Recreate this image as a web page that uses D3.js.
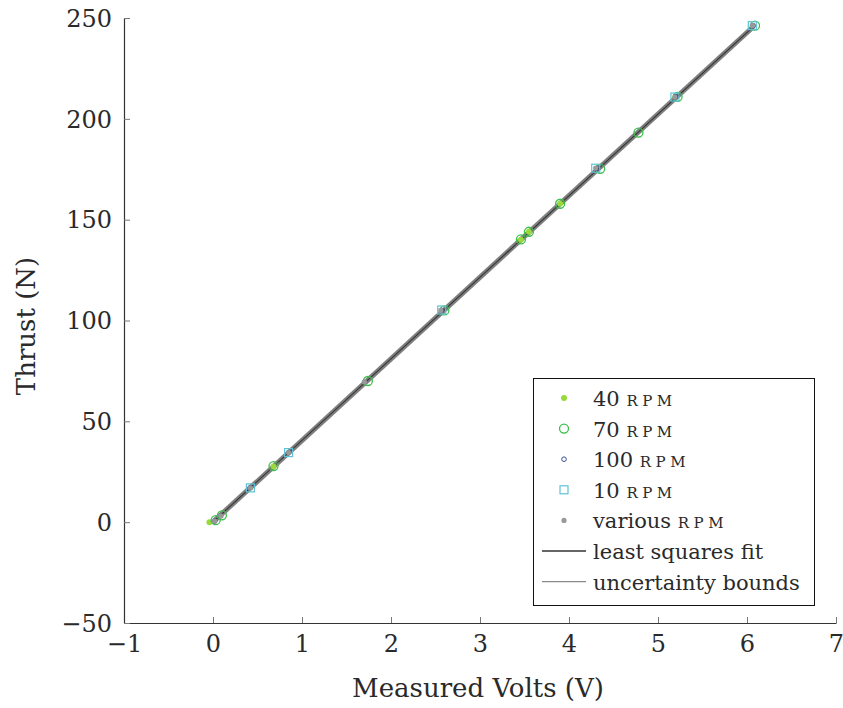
<!DOCTYPE html>
<html><head><meta charset="utf-8">
<script src="https://cdn.jsdelivr.net/npm/d3@7"></script>
<style>body{margin:0;background:#fff}svg{display:block}</style>
</head><body><svg id="c" width="843" height="708" font-family="DejaVu Serif, serif"></svg>
<script>
const xTicks=[-1,0,1,2,3,4,5,6,7];
const yTicks=[-50,0,50,100,150,200,250];
const rpm40=[[-0.04,0.0],[0.68,27.6],[3.46,140.0],[3.55,144.0],[3.90,158.0]];
const rpm70=[[0.03,1.0],[0.10,3.4],[0.68,27.8],[1.74,70.0],[2.60,105.0],[3.46,140.2],[3.55,144.0],[3.90,157.9],[4.35,175.2],[4.78,193.2],[5.22,210.9],[6.09,246.2]];
const rpm100=[[0.02,0.6],[0.42,17.2],[0.85,34.6],[2.57,105.0],[4.32,175.5],[5.20,211.0],[6.07,246.2]];
const rpm10=[[0.42,17.0],[0.85,34.5],[2.57,105.2],[4.30,175.5],[5.19,210.8],[6.06,246.2]];
const various=[[0.02,0.5],[0.09,3.0],[0.42,17.0],[0.85,34.5],[1.70,69.6],[2.56,105.0],[4.30,175.6],[5.19,210.8],[6.06,246.3]];
const fitX=[0,6.08];
const fitSlope=40.45, fitIntercept=0.1, bound=1.0;

const FONT="DejaVu Serif", TXT="#2a2a2a";
const svg=d3.select("#c");
const x=d3.scaleLinear().domain([-1,7]).range([124,836]);
const y=d3.scaleLinear().domain([-50,250]).range([623,18]);
const fit=v=>fitSlope*v+fitIntercept;
const fmt=d=>d<0?"\u2212"+Math.abs(d):d;

const ax=svg.append("g").attr("transform",`translate(0,${y(-50)})`)
 .call(d3.axisBottom(x).tickValues(xTicks).tickSizeInner(-6).tickSizeOuter(0).tickPadding(12).tickFormat(fmt));
const ay=svg.append("g").attr("transform",`translate(${x(-1)},0)`)
 .call(d3.axisLeft(y).tickValues(yTicks).tickSizeInner(-6).tickSizeOuter(0).tickPadding(12).tickFormat(fmt));
[ax,ay].forEach(g=>{g.attr("font-family",FONT);
 g.select(".domain").attr("stroke","#333").attr("stroke-width",1.2);
 g.selectAll(".tick line").attr("stroke","#777");
 g.selectAll(".tick text").attr("font-family",FONT).attr("font-size",24).attr("fill",TXT);});
ay.selectAll(".tick text").attr("dy","0.34em");

svg.append("text").attr("font-family",FONT).attr("fill",TXT).attr("x",478).attr("y",697).attr("text-anchor","middle").attr("font-size",26).text("Measured Volts (V)");
svg.append("text").attr("font-family",FONT).attr("fill",TXT).attr("transform","translate(35,326) rotate(-90)").attr("text-anchor","middle").attr("font-size",26).text("Thrust (N)");

const line=d3.line().x(d=>x(d[0])).y(d=>y(d[1]));
[bound,-bound].forEach(b=>svg.append("path").attr("d",line(fitX.map(v=>[v,fit(v)+b]))).attr("stroke","#808080").attr("stroke-width",2.2).attr("fill","none"));
svg.append("path").attr("d",line(fitX.map(v=>[v,fit(v)]))).attr("stroke","#333").attr("stroke-width",1.3).attr("fill","none");

const c40="#9ad93a", c70="#3cbf4c", c100="#3a4f9c", c10="#5ec3d6", cVar="#999999";
svg.append("g").selectAll("circle").data(rpm40).join("circle").attr("cx",d=>x(d[0])).attr("cy",d=>y(d[1])).attr("r",3).attr("fill",c40);
svg.append("g").selectAll("circle").data(rpm70).join("circle").attr("cx",d=>x(d[0])).attr("cy",d=>y(d[1])).attr("r",4.5).attr("fill","none").attr("stroke",c70).attr("stroke-width",1.3);
svg.append("g").selectAll("circle").data(rpm100).join("circle").attr("cx",d=>x(d[0])).attr("cy",d=>y(d[1])).attr("r",2.3).attr("fill","none").attr("stroke",c100).attr("stroke-width",1);
svg.append("g").selectAll("rect").data(rpm10).join("rect").attr("x",d=>x(d[0])-4).attr("y",d=>y(d[1])-4).attr("width",8).attr("height",8).attr("fill","none").attr("stroke",c10).attr("stroke-width",1.2);
svg.append("g").selectAll("circle").data(various).join("circle").attr("cx",d=>x(d[0])).attr("cy",d=>y(d[1])).attr("r",2.6).attr("fill",cVar);

const lg=svg.append("g");
lg.append("rect").attr("x",533.5).attr("y",378.5).attr("width",281).attr("height",227).attr("fill","#fff").attr("stroke","#111").attr("stroke-width",1);
const entries=[
 {n:"40",t:"dot"},{n:"70",t:"c70"},{n:"100",t:"c100"},{n:"10",t:"sq"},{n:"various",t:"var"},
 {n:"least squares fit",t:"fit"},{n:"uncertainty bounds",t:"bnd"}];
entries.forEach((e,i)=>{
 const cy=398+i*30.6, mx=564;
 if(e.t==="dot") lg.append("circle").attr("cx",mx).attr("cy",cy).attr("r",3).attr("fill",c40);
 if(e.t==="c70") lg.append("circle").attr("cx",mx).attr("cy",cy).attr("r",4.5).attr("fill","none").attr("stroke",c70).attr("stroke-width",1.3);
 if(e.t==="c100") lg.append("circle").attr("cx",mx).attr("cy",cy).attr("r",2.3).attr("fill","none").attr("stroke",c100).attr("stroke-width",1);
 if(e.t==="sq") lg.append("rect").attr("x",mx-4).attr("y",cy-4).attr("width",8).attr("height",8).attr("fill","none").attr("stroke",c10).attr("stroke-width",1.2);
 if(e.t==="var") lg.append("circle").attr("cx",mx).attr("cy",cy).attr("r",2.6).attr("fill",cVar);
 if(e.t==="fit") lg.append("line").attr("x1",542).attr("x2",586).attr("y1",cy).attr("y2",cy).attr("stroke","#333").attr("stroke-width",1.3);
 if(e.t==="bnd") lg.append("line").attr("x1",542).attr("x2",586).attr("y1",cy).attr("y2",cy).attr("stroke","#8a8a8a").attr("stroke-width",1.3);
 const t=lg.append("text").attr("font-family",FONT).attr("fill",TXT).attr("x",593).attr("y",cy+8).attr("font-size",21);
 if(e.t==="fit"||e.t==="bnd") t.text(e.n);
 else { t.append("tspan").text(e.n+" "); t.append("tspan").attr("font-size",15).attr("letter-spacing",4.5).text("RPM"); }
});
</script></body></html>
